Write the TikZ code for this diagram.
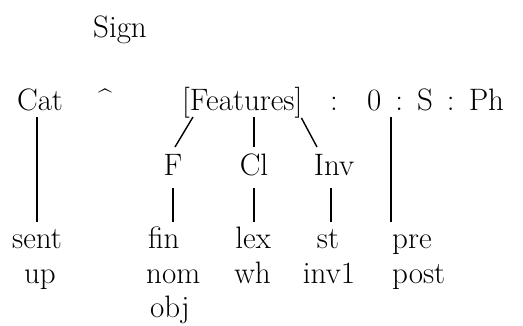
\documentclass[tikz,border=0pt]{standalone}
\usetikzlibrary{calc}
\begin{document}
\begin{tikzpicture}[x=1pt,y=-1pt,
  lbl/.style={inner sep=0pt,anchor=base,font=\fontsize{31}{36}\selectfont},
  conn/.style={line width=1.4pt}]
\useasboundingbox[fill=white] (0,0) rectangle (523,325);
% row 0
\node[lbl] (sign) at (120,37) {Sign};
% row 1
\node[lbl] (cat) at (40,110) {Cat};
\node[lbl,font=\fontsize{24}{30}\selectfont\bfseries] (wedge) at (105,106) {\textasciicircum};
\node[lbl,anchor=base west] (feat) at (182,110) {[Features]};
\node[lbl] (colon) at (334,110) {:};
\node[lbl,anchor=base west] (osph) at (367,110) {0\hspace{14pt}:\hspace{14pt}S\hspace{14pt}:\hspace{14pt}Ph};
% row 2
\node[lbl] (F) at (173,175) {F};
\node[lbl] (Cl) at (254,175) {Cl};
\node[lbl] (Inv) at (334,175) {Inv};
% row 3
\node[lbl] (sent) at (37,248) {sent};
\node[lbl,anchor=base west] (fin) at (148,248) {fin};
\node[lbl,anchor=base east] (lex) at (271,248) {lex};
\node[lbl] (st) at (328,248) {st};
\node[lbl,anchor=base west] (pre) at (392,248) {pre};
% row 4
\node[lbl] (up) at (40,283) {up};
\node[lbl,anchor=base west] (nom) at (146,283) {nom};
\node[lbl,anchor=base east] (wh) at (271,283) {wh};
\node[lbl] (inv1) at (329,283) {inv1};
\node[lbl,anchor=base west] (post) at (392,283) {post};
% row 5
\node[lbl,anchor=base west] (obj) at (150,317) {obj};
% connectors
\draw[conn] ($(cat.base -| sent.base)+(0,7)$) -- ($(sent.base)+(0,-26)$);
\draw[conn] ($(feat.base west)+(11,7)$) -- ($(F.base)+(2,-28)$);
\draw[conn] ($(feat.base -| Cl.base)+(0,7)$) -- ($(Cl.base)+(0,-28)$);
\draw[conn] ($(feat.base east)+(-1,8)$) -- ($(Inv.base)+(-17,-28)$);
\draw[conn] ($(osph.base west)+(24,7)$) -- ($(pre.base west)+(-1,-26)$);
\draw[conn] ($(F.base)+(0,13)$) -- ($(F.base)+(0,47)$);
\draw[conn] ($(Cl.base)+(0,13)$) -- ($(Cl.base)+(0,47)$);
\draw[conn] ($(Inv.base)+(-3,13)$) -- ($(st.base)+(3,-26)$);
\end{tikzpicture}
\end{document}
